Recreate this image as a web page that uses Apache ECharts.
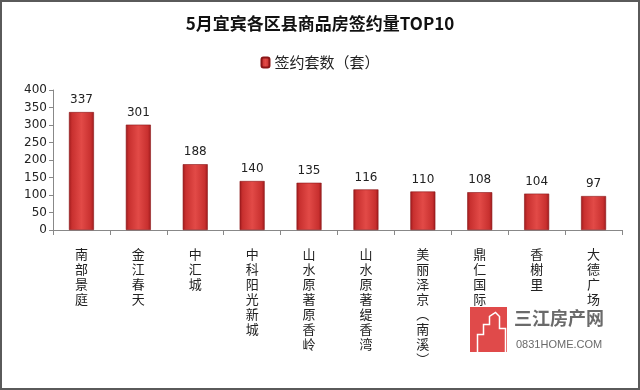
<!DOCTYPE html>
<html><head><meta charset="utf-8">
<script src="https://cdn.jsdelivr.net/npm/echarts@6/dist/echarts.min.js"></script>
<style>
html,body{margin:0;padding:0;background:#fff;}
#c{width:640px;height:390px;box-sizing:border-box;border:2px solid #5a5a5a;}
</style></head>
<body><div id="c"></div>
<script>
const title = '5月宜宾各区县商品房签约量TOP10';
const seriesName = '签约套数（套）';
const categories = ['南部景庭','金江春天','中汇城','中科阳光新城','山水原著原香岭','山水原著缇香湾','美丽泽京︵南溪︶','鼎仁国际','香榭里','大德广场'];
const values = [337, 301, 188, 140, 135, 116, 110, 108, 104, 97];
const yTicks = [0, 50, 100, 150, 200, 250, 300, 350, 400];

const chart = echarts.init(document.getElementById('c'));
const barColor = new echarts.graphic.LinearGradient(0,0,1,0,[
  {offset:0,color:'#9e1a1c'},
  {offset:0.12,color:'#c8302f'},
  {offset:0.5,color:'#e24a47'},
  {offset:0.88,color:'#c8302f'},
  {offset:1,color:'#9e1a1c'}
]);
chart.setOption({
  backgroundColor:'#fff',
  animation:false,
  title:{text:title,left:'center',top:8,textStyle:{fontSize:17,fontWeight:'bold',color:'#111',fontFamily:'Noto Sans CJK SC'}},
  legend:{data:[seriesName],top:48,left:'center',itemWidth:8,itemHeight:10,itemGap:4,
    textStyle:{fontSize:15,color:'#222',fontFamily:'Noto Sans CJK SC'}},
  grid:{left:51,right:16,top:88,bottom:158},
  xAxis:{type:'category',data:categories,
    axisLine:{lineStyle:{color:'#888'}},
    axisTick:{show:true,length:5,lineStyle:{color:'#888'}},
    axisLabel:{interval:0,margin:17,verticalAlign:'top',fontSize:13,lineHeight:15,color:'#222',fontFamily:'Noto Sans CJK SC',
      formatter:v=>v.split('').join('\n')}},
  yAxis:{type:'value',min:0,max:400,interval:50,
    axisLine:{show:true,lineStyle:{color:'#888'}},
    axisTick:{show:true,length:4,lineStyle:{color:'#888'}},
    splitLine:{show:false},
    axisLabel:{fontSize:12,color:'#222',margin:6,fontFamily:'DejaVu Sans',
      formatter:v=>yTicks.includes(v)?String(v):''}},
  series:[{name:seriesName,type:'bar',data:values,barWidth:25,
    itemStyle:{color:barColor,borderColor:'#8a1517',borderWidth:0.6},
    label:{show:true,position:'top',distance:6,fontSize:12,color:'#222',fontFamily:'DejaVu Sans'}}],
  graphic:[
    {type:'rect',left:468,top:305,shape:{width:37,height:45},style:{fill:'#e04a4a'}},
    {type:'polyline',left:473,top:308,shape:{points:[[0,40],[0,22],[6,22],[6,12],[12,12],[12,4],[18,0],[22,4],[22,16],[28,16],[28,40]]},style:{stroke:'#fff',lineWidth:1.5,fill:null}},
    {type:'text',left:512,top:307,style:{text:'三江房产网',fontSize:18,fontWeight:'bold',fill:'#6a6a6a',fontFamily:'Noto Sans CJK SC'}},
    {type:'text',left:514,top:337,style:{text:'0831HOME.COM',fontSize:11,fill:'#6a6a6a',fontFamily:'Liberation Sans'}}
  ]
});
</script></body></html>
